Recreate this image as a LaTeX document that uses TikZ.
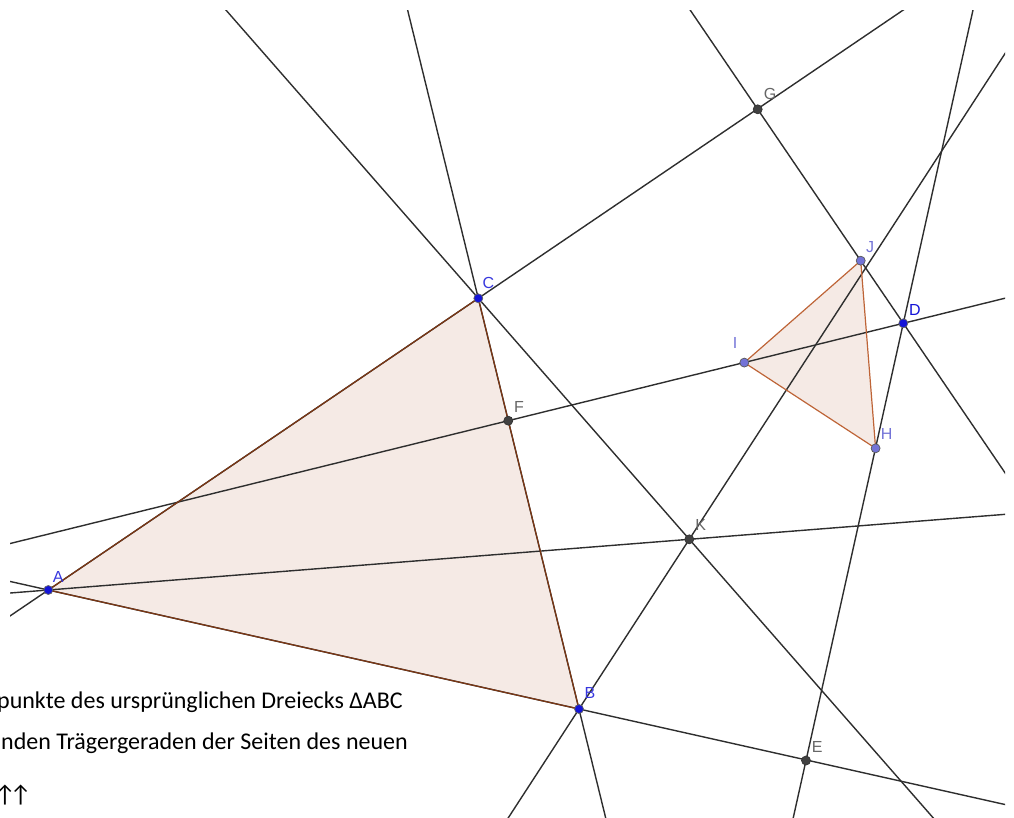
\documentclass[tikz,border=0pt]{standalone}
\usepackage{fontspec}
\setmainfont{Carlito}
\newfontfamily\ggbfont{Liberation Sans}
\definecolor{ptblue}{RGB}{20,20,215}
\definecolor{ptlight}{RGB}{115,115,215}
\definecolor{ptgray}{RGB}{65,65,65}
\definecolor{polybrown}{RGB}{153,51,0}
\definecolor{edgebrown}{RGB}{190,100,55}
\definecolor{edgedark}{RGB}{125,55,20}

\begin{document}
\begin{tikzpicture}[x=1pt, y=-1pt,
    ggbline/.style={black!82, line width=1.4pt, shorten <=-1500pt, shorten >=-1500pt},
    polyfill/.style={fill=polybrown, fill opacity=0.1},
    bluept/.style={circle, draw=black!60, fill=ptblue, inner sep=0pt, minimum size=9pt, line width=0.7pt},
    lightpt/.style={circle, draw=black!65, fill=ptlight, inner sep=0pt, minimum size=9pt, line width=0.7pt},
    graypt/.style={circle, draw=black!80, fill=ptgray, inner sep=0pt, minimum size=9pt, line width=0.7pt},
    lbl/.style={font=\ggbfont\fontsize{16}{18}\selectfont, inner sep=0pt},
    note/.style={anchor=base west, inner sep=0pt, font=\fontsize{24}{29}\selectfont}]
    \useasboundingbox (0,0) rectangle (1014,818);

    % points of the construction
    \coordinate (A) at (48.3,590);
    \coordinate (B) at (579,709);
    \coordinate (C) at (478.3,298.3);
    \coordinate (D) at (903.3,323.3);
    \coordinate (E) at (806,760.5);
    \coordinate (F) at (508.3,420.7);
    \coordinate (G) at (757.7,109.3);
    \coordinate (H) at (875.6,448.3);
    \coordinate (I) at (744.3,362.6);
    \coordinate (J) at (860.7,260.7);
    \coordinate (K) at (689.3,539.3);

    % triangles
    \fill[polyfill] (A) -- (B) -- (C) -- cycle;
    \fill[polyfill] (H) -- (I) -- (J) -- cycle;

    % lines
    \begin{scope}
    \clip (10,11) rectangle (1005,818);
    \draw[ggbline] (A) -- (C);
    \draw[ggbline] (A) -- (B);
    \draw[ggbline] (B) -- (C);
    \draw[ggbline] (A) -- (K);
    \draw[ggbline] (C) -- (K);
    \draw[ggbline] (B) -- (K);
    \draw[ggbline] (F) -- (D);
    \draw[ggbline] (G) -- (D);
    \draw[ggbline] (D) -- (E);
    \end{scope}

    \draw[edgedark, line width=1.2pt] (A) -- (B) -- (C) -- cycle;
    \draw[edgebrown, line width=1.2pt] (H) -- (I) -- (J) -- cycle;

    % dots
    \node[bluept] (dA) at (A) {};
    \node[bluept] (dB) at (B) {};
    \node[bluept] (dC) at (C) {};
    \node[bluept] (dD) at (D) {};
    \node[lightpt] (dH) at (H) {};
    \node[lightpt] (dI) at (I) {};
    \node[lightpt] (dJ) at (J) {};
    \node[graypt] (dE) at (E) {};
    \node[graypt] (dF) at (F) {};
    \node[graypt] (dG) at (G) {};
    \node[graypt] (dK) at (K) {};

    % labels
    \node[lbl, text=ptblue!85] (lA) at (58.3,577) {A};
    \node[lbl, text=ptblue!85] (lB) at (590,693.3) {B};
    \node[lbl, text=ptblue!85] (lC) at (488.3,283.3) {C};
    \node[lbl, text=ptblue] (lD) at (915,310) {D};
    \node[lbl, text=black!60] (lE) at (817.3,747.3) {E};
    \node[lbl, text=black!60] (lF) at (519,406.7) {F};
    \node[lbl, text=black!60] (lG) at (770,94.3) {G};
    \node[lbl, text=ptlight] (lH) at (886.7,434) {H};
    \node[lbl, text=ptlight] (lI) at (735,343.3) {I};
    \node[lbl, text=ptlight] (lJ) at (870,246.7) {J};
    \node[lbl, text=black!60] (lK) at (700.7,525) {K};

    % text
    \node[note] (txt1) at (-3,708) {punkte des ursprünglichen Dreiecks ΔABC};
    \node[note] (txt2) at (1,749) {nden Trägergeraden der Seiten des neuen};
    \node[note] (txt3) at (-6,802) {↑\kern-6pt↑};
\end{tikzpicture}
\end{document}
